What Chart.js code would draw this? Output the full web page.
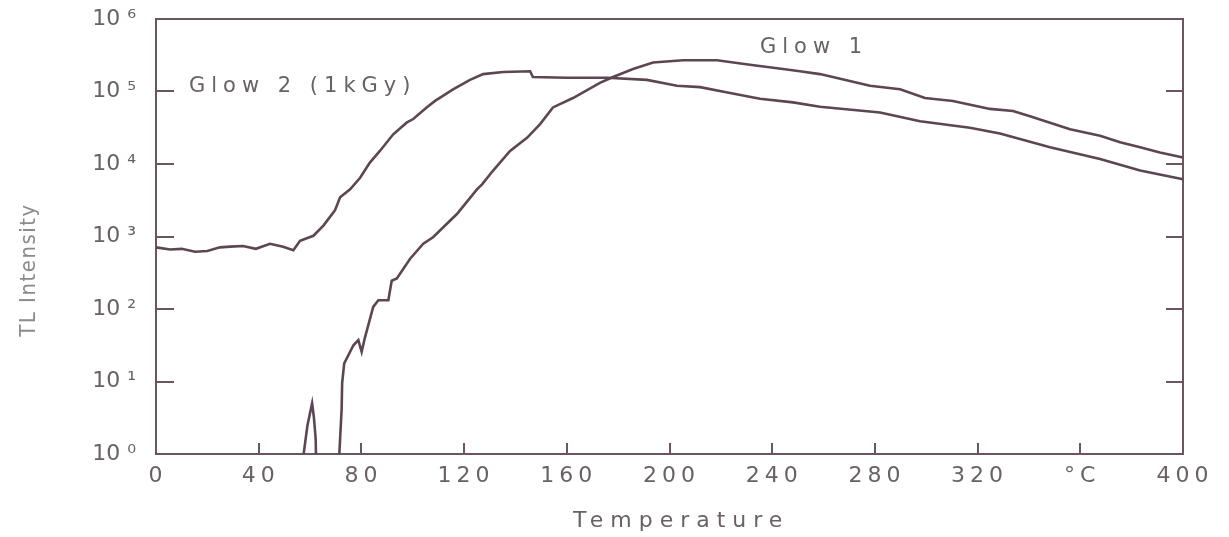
<!DOCTYPE html>
<html><head><meta charset="utf-8">
<script src="https://cdn.jsdelivr.net/npm/chart.js@4/dist/chart.umd.min.js"></script>
<style>html,body{margin:0;padding:0;background:#fff;}canvas{display:block;}</style>
</head><body>
<canvas id="c" width="1229" height="537"></canvas>
<script>
// ---- data (temperature in °C, TL intensity) ----
const glow1Temp = [57.0, 57.5, 59.0, 60.8, 61.5, 62.2, 62.8, 71.0, 71.4, 72.3, 72.5, 73.3, 76.9, 78.8, 80.1, 81.4, 84.6, 86.6, 90.5, 91.8, 93.8, 98.9, 104.1, 107.9, 117.2, 125.0, 127.0, 131.3, 137.9, 144.5, 149.6, 154.6, 162.4, 172.9, 178.0, 185.8, 193.6, 205.3, 218.5, 231.3, 244.2, 250.8, 258.6, 278.1, 289.8, 299.5, 310.4, 324.8, 333.8, 340.4, 356.0, 367.7, 375.5, 383.3, 391.0, 400];
const glow1Value = [0.1, 1, 2.5, 5.0, 3.2, 1.6, 0.1, 0.1, 1, 4.1, 9.5, 17.8, 31.6, 37.2, 25.7, 40.7, 107, 132, 132, 245, 263, 490, 794, 977, 2042, 4467, 5248, 8128, 15140, 22910, 35480, 60260, 81280, 131800, 158500, 204200, 251200, 269200, 269200, 234400, 204200, 190500, 173800, 120200, 107200, 81280, 74130, 57540, 53700, 45710, 30200, 24550, 19950, 16980, 14450, 12300];
const glow2Temp = [0, 5.5, 10, 15.2, 20, 24.9, 29, 33.9, 38.9, 44.4, 49.5, 53.5, 56.1, 61.3, 65.2, 69.7, 71.7, 75.6, 79.5, 83.3, 87.2, 92.4, 97.6, 100.2, 105.4, 108.7, 115.7, 122.3, 127.4, 135.2, 145.7, 146.8, 160, 175.7, 191.2, 202.9, 211.9, 223.6, 235.2, 248.1, 258.6, 282, 297.6, 317, 328.7, 348.2, 367.7, 383.3, 400];
const glow2Value = [708, 661, 676, 617, 631, 708, 724, 741, 676, 794, 724, 646, 871, 1023, 1413, 2291, 3467, 4467, 6457, 10470, 15140, 25700, 37150, 41690, 60260, 74130, 107200, 144500, 173800, 186200, 190500, 158500, 155000, 154900, 144500, 120200, 114800, 95500, 79430, 70800, 61660, 51290, 38900, 31620, 26300, 16980, 11750, 8128, 6166];
const xTicks = [0, 40, 80, 120, 160, 200, 240, 280, 320, 360, 400];
const xTickLabels = ['0', '40', '80', '120', '160', '200', '240', '280', '320', '°C', '400'];
const yTicks = [1, 10, 100, 1000, 10000, 100000, 1000000];
const yTickLabels = ['10 ⁰', '10 ¹', '10 ²', '10 ³', '10 ⁴', '10 ⁵', '10 ⁶'];
const seriesNames = ['Glow 1', 'Glow 2 (1kGy)'];
const xTitle = 'Temperature';
const yTitle = 'TL Intensity';

// ---- styles ----
const INK = '#5c4652';
const AXIS = '#6a5560';
const TEXT = '#696166';
const YTITLE = '#8d8a8c';
const FONT = "'DejaVu Sans', 'Noto Sans', sans-serif";

const toPoints = (t, v) => t.map((x, i) => ({x: x, y: v[i]}));

const textPlugin = {
  id: 'texts',
  beforeDraw(chart) {
    const s = chart.scales.x;
    if (s && !s._spaced) {
      const orig = s.drawLabels.bind(s);
      s.drawLabels = function (ca) {
        const ctx = chart.ctx;
        ctx.save(); ctx.letterSpacing = '5px'; orig(ca); ctx.restore();
      };
      s._spaced = true;
    }
  },
  afterDraw(chart) {
    const ctx = chart.ctx;
    const a = chart.chartArea;
    ctx.save();
    ctx.fillStyle = TEXT;
    ctx.textAlign = 'left';
    ctx.textBaseline = 'alphabetic';
    ctx.font = '21px ' + FONT;
    ctx.letterSpacing = '6px';
    ctx.fillText(seriesNames[1], a.left + 33, a.top + 73);
    ctx.fillText(seriesNames[0], a.left + 604, a.top + 34);
    ctx.font = '22px ' + FONT;
    ctx.letterSpacing = '7px';
    ctx.fillText(xTitle, a.left + 417, 527);
    ctx.restore();

    ctx.save();
    ctx.fillStyle = YTITLE;
    ctx.font = "22px 'DejaVu Sans Condensed', 'DejaVu Sans', sans-serif";
    ctx.letterSpacing = '1.5px';
    ctx.translate(35, 270);
    ctx.rotate(-Math.PI / 2);
    ctx.textAlign = 'center';
    ctx.textBaseline = 'alphabetic';
    ctx.fillText(yTitle, 0, 0);
    ctx.restore();
  }
};

const noPad = (s) => { s.paddingTop = 0; s.paddingBottom = 0; s.paddingLeft = 0; s.paddingRight = 0; };
const gridOpts = (len) => ({drawOnChartArea: false, drawTicks: true, tickLength: len, color: AXIS, lineWidth: 2});
const borderOpts = {display: true, color: AXIS, width: 2};

new Chart(document.getElementById('c'), {
  type: 'line',
  data: {
    datasets: [
      {label: seriesNames[0], data: toPoints(glow1Temp, glow1Value), borderColor: INK, borderWidth: 2.6, pointRadius: 0, tension: 0, fill: false, clip: {left: 2, right: 2, top: 2, bottom: 0}},
      {label: seriesNames[1], data: toPoints(glow2Temp, glow2Value), borderColor: INK, borderWidth: 2.6, pointRadius: 0, tension: 0, fill: false, clip: {left: 2, right: 2, top: 2, bottom: 0}}
    ]
  },
  options: {
    responsive: false,
    animation: false,
    devicePixelRatio: 1,
    layout: {padding: {left: 0, right: 46, top: 19, bottom: 0}},
    plugins: {legend: {display: false}, tooltip: {enabled: false}},
    scales: {
      x: {
        type: 'linear', position: 'bottom', min: 0, max: 400,
        afterBuildTicks: (s) => { s.ticks = xTicks.map(v => ({value: v})); },
        afterFit: (s) => { s.height = 83; noPad(s); },
        grid: gridOpts(-11),
        border: borderOpts,
        ticks: {
          autoSkip: false, maxRotation: 0, padding: 20, labelOffset: 2,
          color: TEXT, font: {family: FONT, size: 22},
          callback: (v) => xTickLabels[xTicks.indexOf(v)]
        }
      },
      x2: {
        type: 'linear', position: 'top', min: 0, max: 400,
        afterFit: (s) => { s.height = 0; noPad(s); },
        grid: {display: false, drawOnChartArea: false, drawTicks: false},
        border: borderOpts,
        ticks: {display: false}
      },
      y: {
        type: 'logarithmic', position: 'left', min: 1, max: 1000000,
        afterBuildTicks: (s) => { s.ticks = yTicks.map(v => ({value: v})); },
        afterFit: (s) => { s.width = 156; noPad(s); },
        grid: gridOpts(-18),
        border: borderOpts,
        ticks: {
          autoSkip: false, padding: 38,
          color: TEXT, font: {family: FONT, size: 22},
          callback: (v) => yTickLabels[yTicks.indexOf(v)]
        }
      },
      y2: {
        type: 'logarithmic', position: 'right', min: 1, max: 1000000,
        afterBuildTicks: (s) => { s.ticks = yTicks.map(v => ({value: v})); },
        afterFit: (s) => { s.width = 0; noPad(s); },
        grid: gridOpts(-17),
        border: borderOpts,
        ticks: {display: false}
      }
    }
  },
  plugins: [textPlugin]
});
</script>
</body></html>
